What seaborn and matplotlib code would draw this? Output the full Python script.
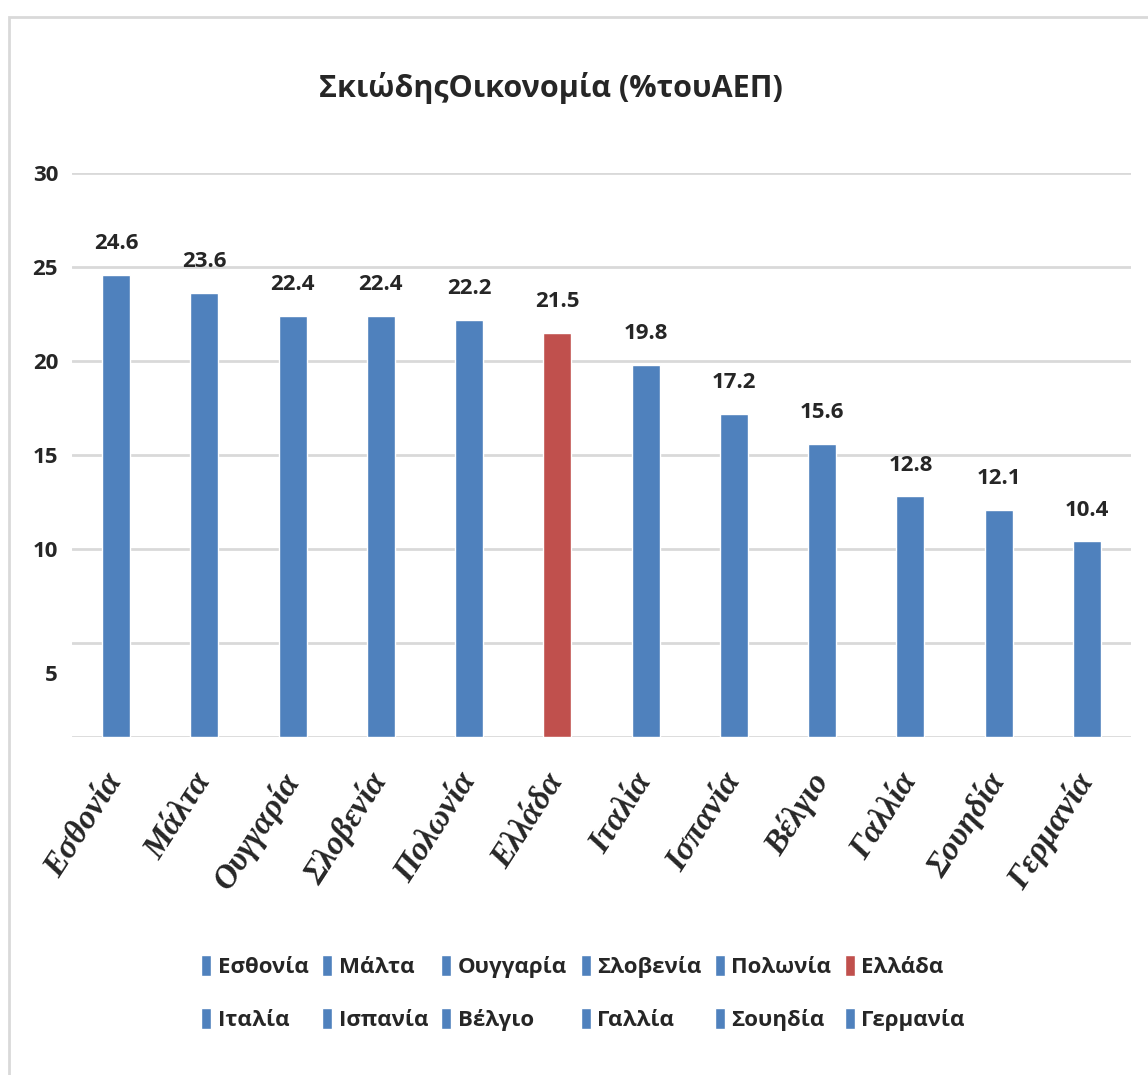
import matplotlib
matplotlib.use("Agg")
import matplotlib.pyplot as plt
import matplotlib.transforms as mtransforms
from matplotlib.patches import Rectangle
import seaborn as sns
import pandas as pd

countries = ["Εσθονία", "Μάλτα", "Ουγγαρία", "Σλοβενία", "Πολωνία", "Ελλάδα",
             "Ιταλία", "Ισπανία", "Βέλγιο", "Γαλλία", "Σουηδία", "Γερμανία"]
shadow_share = [24.6, 23.6, 22.4, 22.4, 22.2, 21.5, 19.8, 17.2, 15.6, 12.8, 12.1, 10.4]
bar_colors = ["#4f81bd"] * 5 + ["#c0504d"] + ["#4f81bd"] * 6
y_ticks = [0, 5, 10, 15, 20, 25, 30]
y_tick_labels = ["", "5", "10", "15", "20", "25", "30"]
title = "ΣκιώδηςΟικονομία (%τουΑΕΠ)"

sans = ["Open Sans", "DejaVu Sans"]
serif = ["Liberation Serif", "DejaVu Serif"]

sns.set_theme(style="white")
plt.rcParams["font.family"] = sans

df = pd.DataFrame({"country": countries, "value": shadow_share})

fig = plt.figure(figsize=(11.48, 10.75), dpi=100)
ax = fig.add_axes([72 / 1148, 1 - 737 / 1075, (1131 - 72) / 1148, (737 - 173) / 1075])

sns.barplot(data=df, x="country", y="value", hue="country",
            palette=dict(zip(countries, bar_colors)), width=0.32,
            dodge=False, saturation=1, legend=True, ax=ax)

ax.set_ylim(0, 30)
ax.set_xlim(-0.5, len(countries) - 0.5)
ax.set_yticks(y_ticks)
ax.set_yticklabels(y_tick_labels, fontsize=16, fontweight="bold")
ax.yaxis.grid(True, color="#d9d9d9", linewidth=2)
ax.set_axisbelow(True)
for s in ax.spines.values():
    s.set_visible(False)
ax.tick_params(axis="y", length=0, pad=10)
ax.tick_params(axis="x", length=0, pad=28)
ax.set_xlabel("")
ax.set_ylabel("")

# the "5" label sits a little below its gridline
lbl5 = ax.get_yticklabels()[1]
lbl5.set_transform(lbl5.get_transform() +
                   mtransforms.ScaledTranslation(0, -0.30, fig.dpi_scale_trans))

ax.set_xticks(range(len(countries)))
ax.set_xticklabels(countries, rotation=57, ha="right", va="center",
                   rotation_mode="anchor", family=serif,
                   fontsize=24, fontweight="bold", fontstyle="italic")

for cont in ax.containers:
    ax.bar_label(cont, fmt="%.1f", padding=15, fontsize=16, fontweight="bold")

fig.text(551 / 1148, 1 - 88 / 1075, title, ha="center", va="center",
         fontsize=22, fontweight="bold")

# legend laid out row by row (6 per row)
handles, labels = ax.get_legend_handles_labels()
order = [i + 6 * r for i in range(6) for r in range(2)]
ax.legend([handles[k] for k in order], [labels[k] for k in order],
          loc="center", bbox_to_anchor=(583 / 1148, 1 - 993 / 1075),
          bbox_transform=fig.transFigure, ncol=6, frameon=False,
          handlelength=0.45, handleheight=1.1, handletextpad=0.3,
          columnspacing=0.6, labelspacing=1.35,
          prop={"weight": "bold", "size": 16, "family": sans})

# chart border
fig.patches.append(Rectangle((9 / 1148, -0.05), 1.1, 1 - 17 / 1075 + 0.05,
                             transform=fig.transFigure, fill=False,
                             edgecolor="#d9d9d9", linewidth=2))

fig.savefig("out.png", dpi=100)
